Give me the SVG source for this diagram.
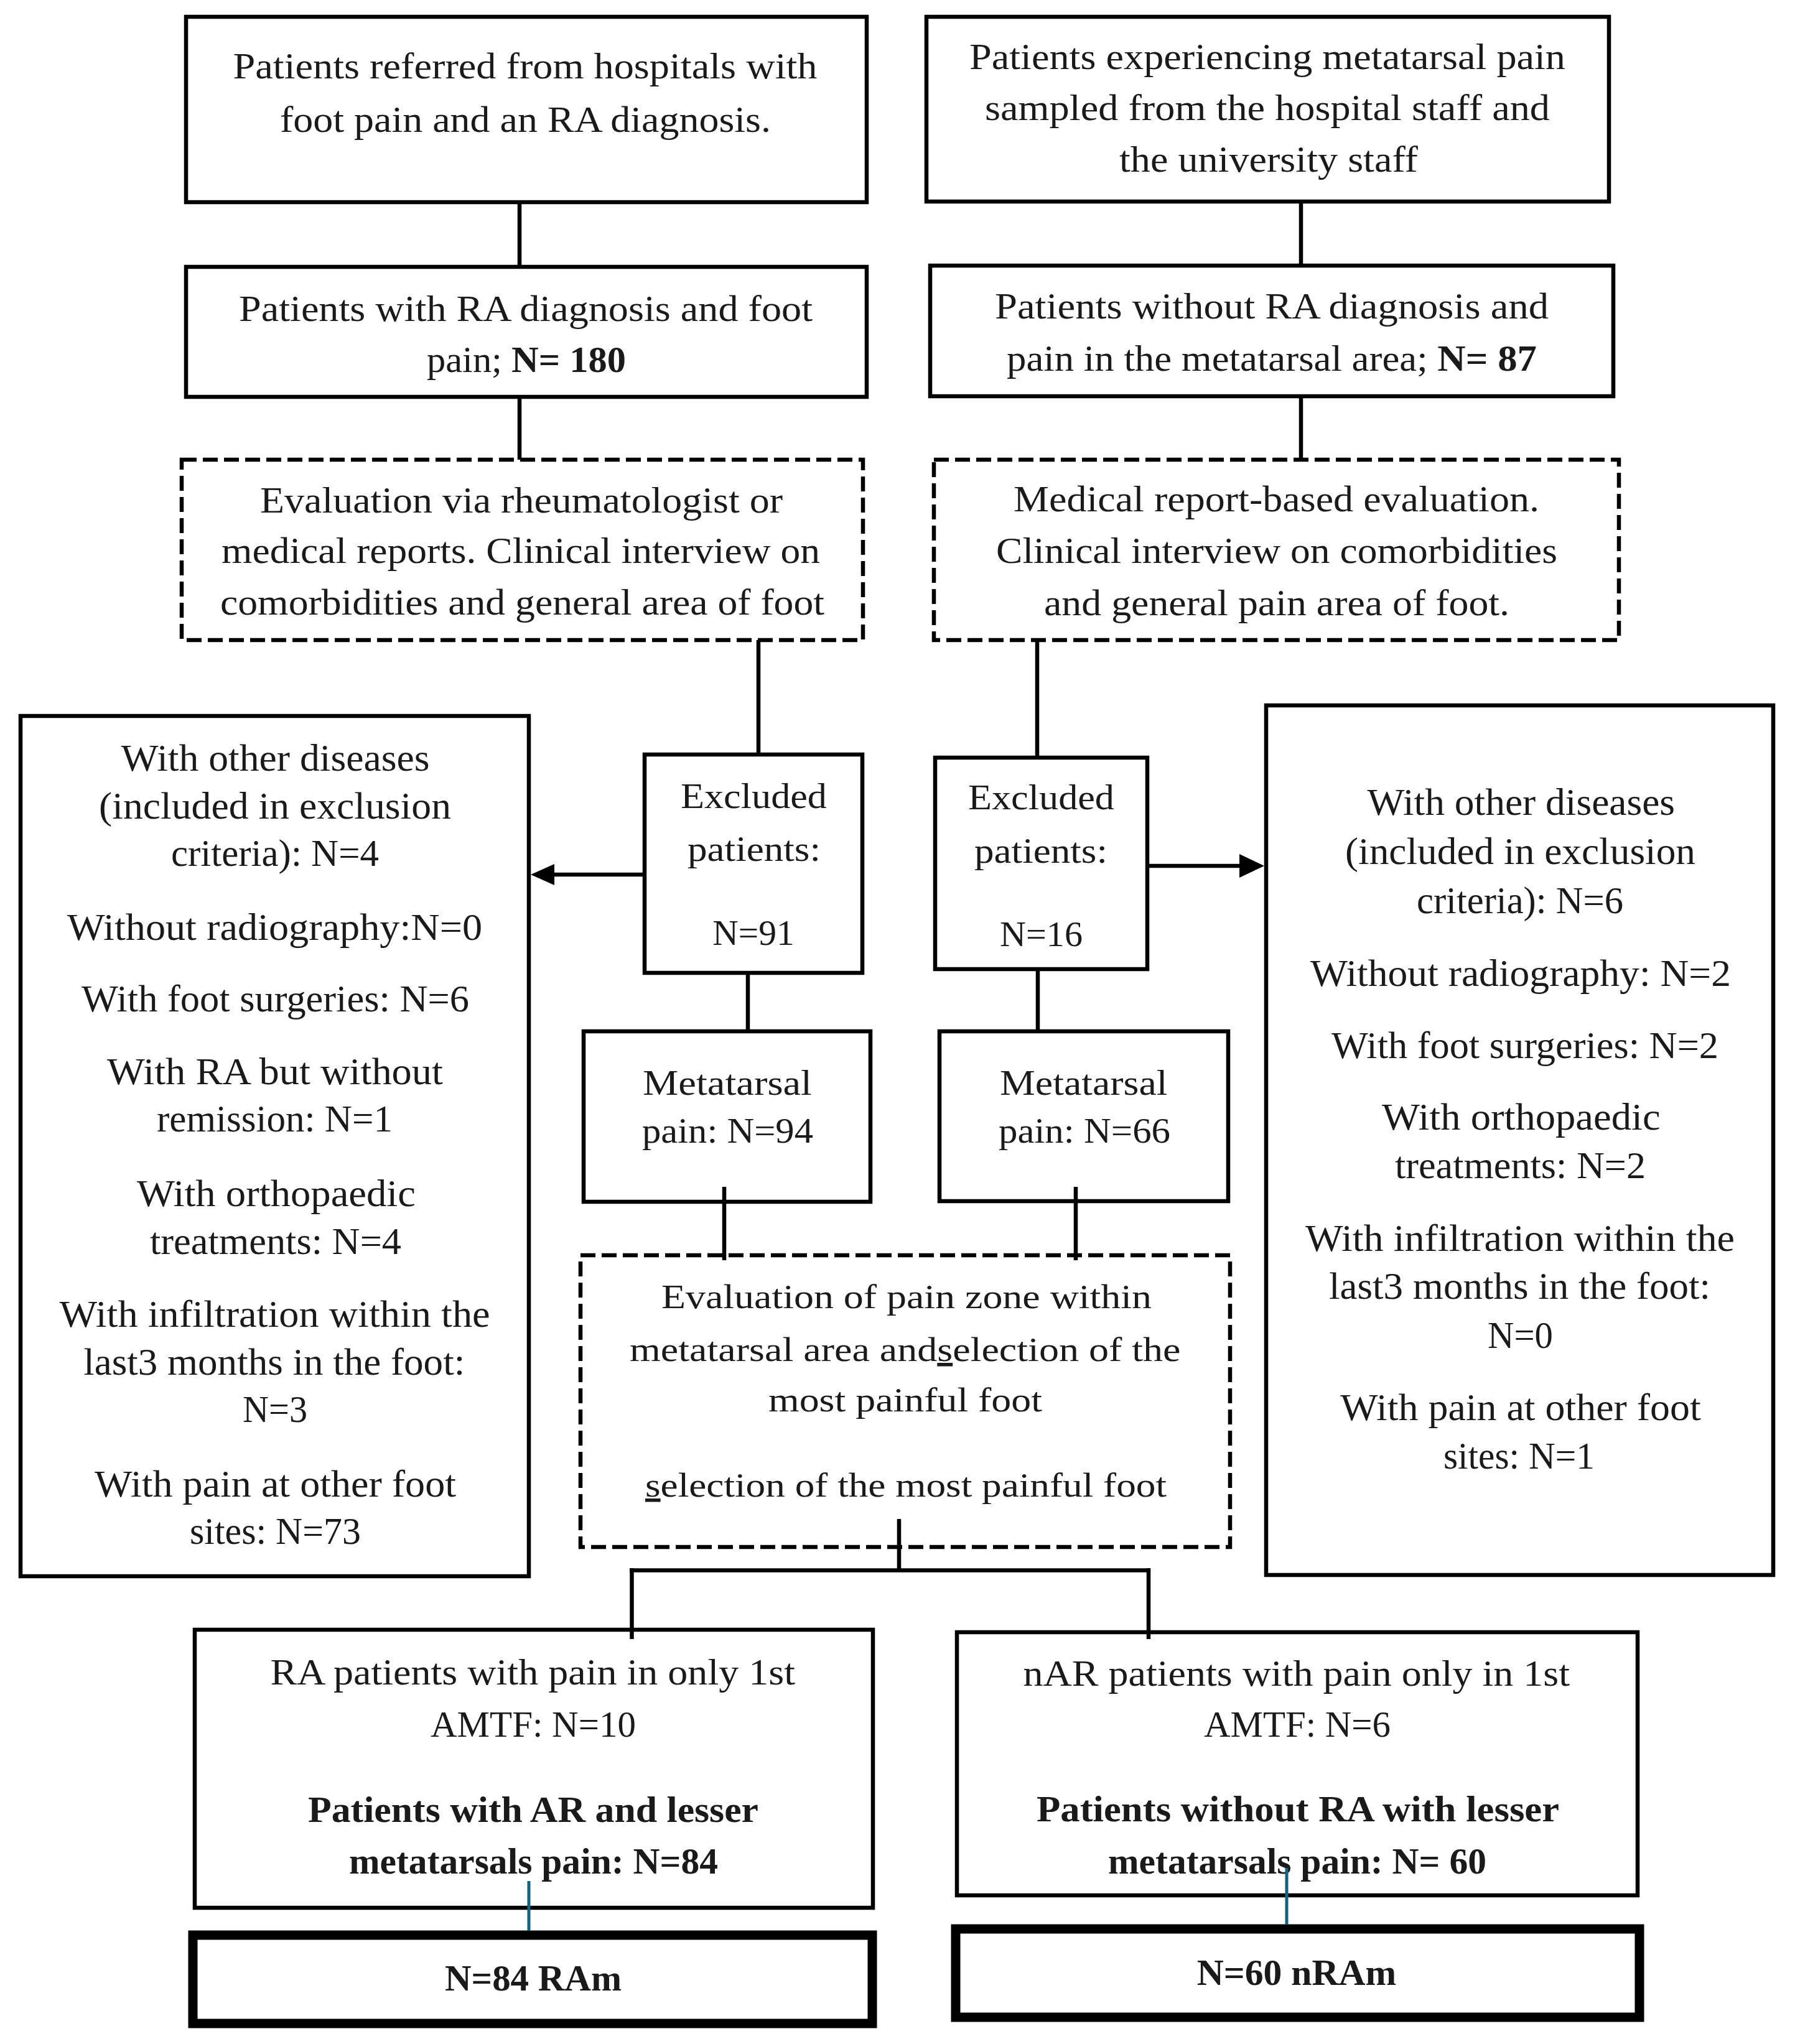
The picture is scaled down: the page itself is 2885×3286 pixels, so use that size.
<svg xmlns="http://www.w3.org/2000/svg" width="2885" height="3286" viewBox="0 0 2885 3286">
<style>
.box{fill:#fff;stroke:#000;stroke-width:6.5}
.dash{fill:#fff;stroke:#000;stroke-width:6.5;stroke-dasharray:24 10}
.thick{fill:#fff;stroke:#000;stroke-width:15}
.con{stroke:#000;stroke-width:6.5;fill:none}
.teal{stroke:#17607e;stroke-width:5;fill:none}
text{font-family:"Liberation Serif","Times New Roman",serif;fill:#1a1a1a;text-anchor:middle}
.t59{font-size:59px}
.t62{font-size:62px}
.t57{font-size:57px}
.t55{font-size:55px}
.t60{font-size:60px}
.b{font-weight:bold}
</style>
<rect width="2885" height="3286" fill="#fff"/>
<g id="n_a1">
<rect class="box" x="299" y="27" width="1094" height="298"/>
<text class="t59" x="844" y="126" textLength="939" lengthAdjust="spacingAndGlyphs">Patients referred from hospitals with</text>
<text class="t59" x="844.5" y="212" textLength="789" lengthAdjust="spacingAndGlyphs">foot pain and an RA diagnosis.</text>
</g>
<g id="n_a2">
<rect class="box" x="299" y="429" width="1094" height="209"/>
<text class="t59" x="845" y="516" textLength="922" lengthAdjust="spacingAndGlyphs">Patients with RA diagnosis and foot</text>
<text class="t59" x="846" y="598" textLength="320" lengthAdjust="spacingAndGlyphs">pain; <tspan class="b">N= 180</tspan></text>
</g>
<g id="n_a3">
<rect class="dash" x="292" y="739" width="1095" height="290"/>
<text class="t59" x="838" y="824" textLength="840" lengthAdjust="spacingAndGlyphs">Evaluation via rheumatologist or</text>
<text class="t59" x="837" y="905" textLength="962" lengthAdjust="spacingAndGlyphs">medical reports. Clinical interview on</text>
<text class="t59" x="839.5" y="988" textLength="971" lengthAdjust="spacingAndGlyphs">comorbidities and general area of foot</text>
</g>
<g id="n_b1">
<rect class="box" x="1489" y="27" width="1097" height="297"/>
<text class="t59" x="2037" y="111" textLength="958" lengthAdjust="spacingAndGlyphs">Patients experiencing metatarsal pain</text>
<text class="t59" x="2037" y="193" textLength="908" lengthAdjust="spacingAndGlyphs">sampled from the hospital staff and</text>
<text class="t59" x="2039" y="276" textLength="480" lengthAdjust="spacingAndGlyphs">the university staff</text>
</g>
<g id="n_b2">
<rect class="box" x="1495" y="427" width="1098" height="210"/>
<text class="t59" x="2044" y="512" textLength="890" lengthAdjust="spacingAndGlyphs">Patients without RA diagnosis and</text>
<text class="t59" x="2044" y="596" textLength="852" lengthAdjust="spacingAndGlyphs">pain in the metatarsal area; <tspan class="b">N= 87</tspan></text>
</g>
<g id="n_b3">
<rect class="dash" x="1501" y="739" width="1101" height="290"/>
<text class="t59" x="2051.5" y="822" textLength="845" lengthAdjust="spacingAndGlyphs">Medical report-based evaluation.</text>
<text class="t59" x="2052" y="905" textLength="902" lengthAdjust="spacingAndGlyphs">Clinical interview on comorbidities</text>
<text class="t59" x="2052" y="989" textLength="748" lengthAdjust="spacingAndGlyphs">and general pain area of foot.</text>
</g>
<g id="n_left">
<rect class="box" x="33" y="1151" width="817" height="1383"/>
<text class="t62" x="442.6" y="1239" textLength="496" lengthAdjust="spacingAndGlyphs">With other diseases</text>
<text class="t62" x="442" y="1316" textLength="566" lengthAdjust="spacingAndGlyphs">(included in exclusion</text>
<text class="t62" x="442" y="1392" textLength="334" lengthAdjust="spacingAndGlyphs">criteria): N=4</text>
<text class="t62" x="441.5" y="1511" textLength="667" lengthAdjust="spacingAndGlyphs">Without radiography:N=0</text>
<text class="t62" x="442.5" y="1626" textLength="623" lengthAdjust="spacingAndGlyphs">With foot surgeries: N=6</text>
<text class="t62" x="442" y="1743" textLength="540" lengthAdjust="spacingAndGlyphs">With RA but without</text>
<text class="t62" x="441.5" y="1819" textLength="379" lengthAdjust="spacingAndGlyphs">remission: N=1</text>
<text class="t62" x="444" y="1939" textLength="448" lengthAdjust="spacingAndGlyphs">With orthopaedic</text>
<text class="t62" x="443" y="2016" textLength="404" lengthAdjust="spacingAndGlyphs">treatments: N=4</text>
<text class="t62" x="441.6" y="2133" textLength="692" lengthAdjust="spacingAndGlyphs">With infiltration within the</text>
<text class="t62" x="440.7" y="2210" textLength="613" lengthAdjust="spacingAndGlyphs">last3 months in the foot:</text>
<text class="t62" x="442" y="2286" textLength="104" lengthAdjust="spacingAndGlyphs">N=3</text>
<text class="t62" x="442.5" y="2406" textLength="581" lengthAdjust="spacingAndGlyphs">With pain at other foot</text>
<text class="t62" x="442.5" y="2482" textLength="275" lengthAdjust="spacingAndGlyphs">sites: N=73</text>
</g>
<g id="n_right">
<rect class="box" x="2035" y="1134" width="815" height="1398"/>
<text class="t62" x="2444.8" y="1310" textLength="494.5" lengthAdjust="spacingAndGlyphs">With other diseases</text>
<text class="t62" x="2443.5" y="1389" textLength="563" lengthAdjust="spacingAndGlyphs">(included in exclusion</text>
<text class="t62" x="2443" y="1468" textLength="332" lengthAdjust="spacingAndGlyphs">criteria): N=6</text>
<text class="t62" x="2444" y="1585" textLength="676" lengthAdjust="spacingAndGlyphs">Without radiography: N=2</text>
<text class="t62" x="2451" y="1701" textLength="622" lengthAdjust="spacingAndGlyphs">With foot surgeries: N=2</text>
<text class="t62" x="2444.8" y="1816" textLength="447.5" lengthAdjust="spacingAndGlyphs">With orthopaedic</text>
<text class="t62" x="2443.5" y="1894" textLength="403" lengthAdjust="spacingAndGlyphs">treatments: N=2</text>
<text class="t62" x="2443" y="2011" textLength="690" lengthAdjust="spacingAndGlyphs">With infiltration within the</text>
<text class="t62" x="2442.5" y="2088" textLength="613" lengthAdjust="spacingAndGlyphs">last3 months in the foot:</text>
<text class="t62" x="2443.5" y="2167" textLength="105" lengthAdjust="spacingAndGlyphs">N=0</text>
<text class="t62" x="2444" y="2283" textLength="579.5" lengthAdjust="spacingAndGlyphs">With pain at other foot</text>
<text class="t62" x="2441.5" y="2361" textLength="243" lengthAdjust="spacingAndGlyphs">sites: N=1</text>
</g>
<g id="n_ex91">
<rect class="box" x="1036" y="1213" width="350" height="351"/>
<text class="t57" x="1211.5" y="1299" textLength="235" lengthAdjust="spacingAndGlyphs">Excluded</text>
<text class="t57" x="1212" y="1384" textLength="214" lengthAdjust="spacingAndGlyphs">patients:</text>
<text class="t57" x="1211" y="1519" textLength="131.5" lengthAdjust="spacingAndGlyphs">N=91</text>
</g>
<g id="n_ex16">
<rect class="box" x="1503" y="1218" width="341" height="340"/>
<text class="t57" x="1673.5" y="1301" textLength="235" lengthAdjust="spacingAndGlyphs">Excluded</text>
<text class="t57" x="1673" y="1387" textLength="214" lengthAdjust="spacingAndGlyphs">patients:</text>
<text class="t57" x="1673.5" y="1521" textLength="133" lengthAdjust="spacingAndGlyphs">N=16</text>
</g>
<g id="n_met94">
<rect class="box" x="938" y="1658" width="461" height="274"/>
<text class="t57" x="1169" y="1760" textLength="272" lengthAdjust="spacingAndGlyphs">Metatarsal</text>
<text class="t57" x="1169.5" y="1837" textLength="275" lengthAdjust="spacingAndGlyphs">pain: N=94</text>
</g>
<g id="n_met66">
<rect class="box" x="1510" y="1658" width="464" height="273"/>
<text class="t57" x="1741.8" y="1760" textLength="269.5" lengthAdjust="spacingAndGlyphs">Metatarsal</text>
<text class="t57" x="1743" y="1837" textLength="276" lengthAdjust="spacingAndGlyphs">pain: N=66</text>
</g>
<g id="n_eval">
<rect class="dash" x="933" y="2018" width="1044" height="469"/>
<text class="t55" x="1457" y="2103" textLength="788" lengthAdjust="spacingAndGlyphs">Evaluation of pain zone within</text>
<text class="t55" x="1454.8" y="2188" textLength="885.5" lengthAdjust="spacingAndGlyphs">metatarsal area and<tspan text-decoration="underline">s</tspan>election of the</text>
<text class="t55" x="1455" y="2269" textLength="440" lengthAdjust="spacingAndGlyphs">most painful foot</text>
<text class="t55" x="1456" y="2406" textLength="838" lengthAdjust="spacingAndGlyphs"><tspan text-decoration="underline">s</tspan>election of the most painful foot</text>
</g>
<g id="n_d1">
<rect class="box" x="313" y="2620" width="1090" height="447"/>
<text class="t60" x="856.3" y="2708" textLength="843.4" lengthAdjust="spacingAndGlyphs">RA patients with pain in only 1st</text>
<text class="t60" x="857" y="2792" textLength="330" lengthAdjust="spacingAndGlyphs">AMTF: N=10</text>
<text class="t60 b" x="857" y="2929" textLength="724" lengthAdjust="spacingAndGlyphs">Patients with AR and lesser</text>
<text class="t60 b" x="857.5" y="3012" textLength="593" lengthAdjust="spacingAndGlyphs">metatarsals pain: N=84</text>
</g>
<g id="n_d2">
<rect class="box" x="1538" y="2624" width="1094" height="423"/>
<text class="t60" x="2083.8" y="2710" textLength="878.4" lengthAdjust="spacingAndGlyphs">nAR patients with pain only in 1st</text>
<text class="t60" x="2085" y="2792" textLength="300" lengthAdjust="spacingAndGlyphs">AMTF: N=6</text>
<text class="t60 b" x="2086" y="2928" textLength="840" lengthAdjust="spacingAndGlyphs">Patients without RA with lesser</text>
<text class="t60 b" x="2085" y="3012" textLength="608" lengthAdjust="spacingAndGlyphs">metatarsals pain: N= 60</text>
</g>
<g id="n_e1">
<rect class="thick" x="310" y="3111" width="1092" height="142"/>
<text class="t60 b" x="857" y="3200" textLength="284" lengthAdjust="spacingAndGlyphs">N=84 RAm</text>
</g>
<g id="n_e2">
<rect class="thick" x="1536" y="3101" width="1099" height="142"/>
<text class="t60 b" x="2084" y="3191" textLength="320.5" lengthAdjust="spacingAndGlyphs">N=60 nRAm</text>
</g>
<g id="connectors">
<line class="con" x1="835" y1="325" x2="835" y2="429"/>
<line class="con" x1="835" y1="638" x2="835" y2="739"/>
<line class="con" x1="2091" y1="324" x2="2091" y2="427"/>
<line class="con" x1="2091" y1="637" x2="2091" y2="739"/>
<line class="con" x1="1219" y1="1029" x2="1219" y2="1213"/>
<line class="con" x1="1667" y1="1029" x2="1667" y2="1218"/>
<line class="con" x1="1036" y1="1406" x2="886" y2="1406"/>
<polygon points="853,1406 891,1389 891,1423" fill="#000"/>
<line class="con" x1="1844" y1="1392" x2="1996" y2="1392"/>
<polygon points="2032,1392 1992,1373 1992,1411" fill="#000"/>
<line class="con" x1="1202" y1="1564" x2="1202" y2="1658"/>
<line class="con" x1="1668" y1="1558" x2="1668" y2="1658"/>
<line class="con" x1="1164" y1="1908" x2="1164" y2="2026"/>
<line class="con" x1="1729" y1="1908" x2="1729" y2="2026"/>
<line class="con" x1="1445" y1="2442" x2="1445" y2="2525"/>
<line class="con" x1="1012" y1="2524.5" x2="1849" y2="2524.5"/>
<line class="con" x1="1015.5" y1="2521" x2="1015.5" y2="2635"/>
<line class="con" x1="1846" y1="2521" x2="1846" y2="2635"/>
<line class="teal" x1="850" y1="3024" x2="850" y2="3104"/>
<line class="teal" x1="2068" y1="3003" x2="2068" y2="3094"/>
</g>
</svg>
